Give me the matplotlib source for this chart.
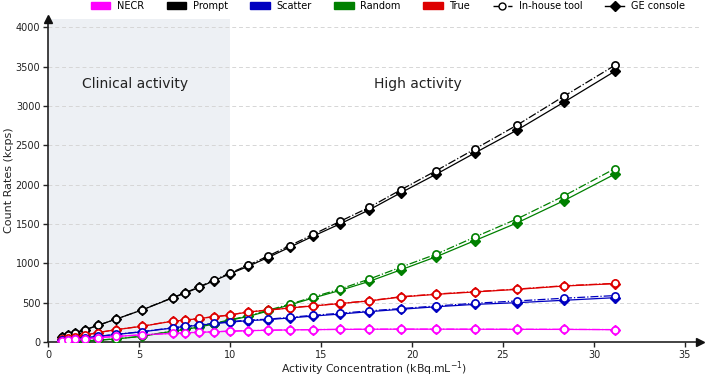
import matplotlib
matplotlib.use("Agg")
import matplotlib.pyplot as plt
from matplotlib.patches import Patch
from matplotlib.lines import Line2D

# Activity concentration (kBq/mL)
activity = [0.79, 1.08, 1.48, 2.03, 2.75, 3.75, 5.18, 6.85, 7.55, 8.3, 9.1, 9.98,
            11.0, 12.07, 13.3, 14.58, 16.04, 17.66, 19.4, 21.34, 23.44, 25.79, 28.33, 31.15]

# In-house tool (kcps)
inhouse_prompt = [60, 89, 118, 155, 212, 292, 410, 565, 628, 700, 785, 874,
                  976, 1090, 1226, 1368, 1532, 1712, 1935, 2178, 2450, 2758, 3120, 3515]
inhouse_random = [3, 5, 8, 13, 24, 40, 75, 140, 165, 195, 235, 282,
                  332, 402, 482, 572, 672, 800, 952, 1117, 1332, 1566, 1854, 2203]
inhouse_scatter = [20, 28, 38, 52, 72, 98, 132, 182, 203, 216, 237, 258,
                   280, 290, 314, 340, 365, 396, 425, 458, 492, 522, 556, 590]
inhouse_true = [34, 48, 66, 88, 120, 158, 202, 267, 280, 300, 322, 343,
                385, 406, 436, 461, 491, 525, 576, 610, 640, 673, 715, 745]
inhouse_necr = [17, 24, 32, 43, 56, 72, 92, 110, 118, 124, 130, 138,
                145, 150, 155, 158, 161, 163, 164, 164, 163, 162, 161, 158]

# GE console (kcps)
ge_prompt = [60, 89, 118, 155, 212, 292, 408, 561, 622, 694, 777, 864,
             962, 1072, 1206, 1346, 1500, 1680, 1898, 2133, 2400, 2695, 3044, 3440]
ge_random = [3, 5, 8, 13, 23, 39, 73, 137, 161, 190, 229, 276,
             325, 392, 472, 560, 655, 771, 918, 1084, 1287, 1515, 1794, 2133]
ge_scatter = [20, 28, 38, 51, 71, 96, 130, 178, 198, 212, 232, 252,
              272, 284, 306, 330, 355, 386, 416, 448, 478, 500, 530, 563]
ge_true = [34, 48, 66, 88, 120, 157, 200, 265, 278, 298, 320, 341,
           382, 403, 433, 458, 488, 522, 572, 606, 636, 669, 711, 741]
ge_necr = [17, 24, 32, 43, 56, 71, 91, 109, 117, 123, 129, 137,
           144, 149, 154, 157, 160, 162, 163, 163, 162, 161, 160, 157]

series_names = ["NECR", "Prompt", "Scatter", "Random", "True"]
colors = {"NECR": "#ff00ff", "Prompt": "#000000", "Scatter": "#0000c0",
          "Random": "#008000", "True": "#dd0000"}

inhouse = {"NECR": inhouse_necr, "Prompt": inhouse_prompt, "Scatter": inhouse_scatter,
           "Random": inhouse_random, "True": inhouse_true}
ge = {"NECR": ge_necr, "Prompt": ge_prompt, "Scatter": ge_scatter,
      "Random": ge_random, "True": ge_true}

fig = plt.figure(figsize=(7.08, 3.77), dpi=100)
ax = fig.add_axes([0.0678, 0.0928, 0.9202, 0.856])

ax.axvspan(0, 10, color="#edf0f4", zorder=0, lw=0)
ax.yaxis.grid(True, linestyle=(0, (4, 3)), color="#d6d6d6", lw=0.7, zorder=0.5)
ax.set_axisbelow(True)

order = ["Prompt", "Random", "True", "Scatter", "NECR"]
for name in order:
    c = colors[name]
    ax.plot(activity, ge[name], color=c, lw=0.9, ls="-", marker="D", markersize=4.8,
            markerfacecolor=c, markeredgecolor=c, zorder=3)
    ax.plot(activity, inhouse[name], color=c, lw=0.9, ls="-.", marker="o", markersize=5.2,
            markerfacecolor="white", markeredgecolor=c, markeredgewidth=1.2, zorder=4)

ax.set_xlim(0, 35.8)
ax.set_ylim(0, 4100)
ax.set_xticks(range(0, 36, 5))
ax.set_yticks(range(0, 4001, 500))
ax.tick_params(axis="both", labelsize=7, direction="out", length=3.5, width=1.0,
               pad=2, colors="#222222")
for s in ["top", "right"]:
    ax.spines[s].set_visible(False)
for s in ["left", "bottom"]:
    ax.spines[s].set_linewidth(1.2)
    ax.spines[s].set_color("#222222")
ax.plot(1, 0, ">", color="#111111", markersize=6, transform=ax.transAxes, clip_on=False, zorder=6)
ax.plot(0, 1, "^", color="#111111", markersize=6, transform=ax.transAxes, clip_on=False, zorder=6)

ax.set_xlabel("Activity Concentration (kBq.mL$^{-1}$)", fontsize=7.8, labelpad=0, color="#222222")
ax.set_ylabel("Count Rates (kcps)", fontsize=8, labelpad=1, color="#222222")

ax.text(4.8, 3280, "Clinical activity", fontsize=10, ha="center", va="center", color="#222222")
ax.text(20.3, 3280, "High activity", fontsize=10, ha="center", va="center", color="#222222")

handles = [Patch(facecolor=colors[n], edgecolor=colors[n], alpha=1.0) for n in series_names]
labels = list(series_names)
handles.append(Line2D([], [], color="black", ls="-.", lw=1.0, marker="o", markersize=5,
                      markerfacecolor="white", markeredgecolor="black"))
labels.append("In-house tool")
handles.append(Line2D([], [], color="black", ls="-", lw=1.0, marker="D", markersize=5,
                      markerfacecolor="black", markeredgecolor="black"))
labels.append("GE console")
fig.legend(handles, labels, loc="center", bbox_to_anchor=(388 / 708, 1 - 6 / 377), ncol=7,
           frameon=False, fontsize=7, handlelength=2.0, handleheight=0.7,
           handletextpad=0.7, columnspacing=2.3)

fig.savefig("out.png", dpi=100)
